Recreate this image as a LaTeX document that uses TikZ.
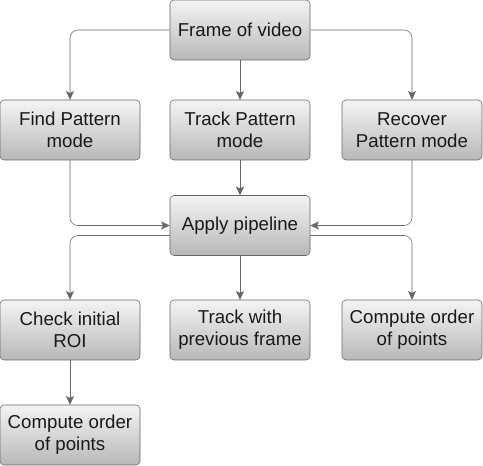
\documentclass[tikz,border=0pt]{standalone}
\usepackage{fontspec}
\setmainfont{Liberation Sans}
\usetikzlibrary{arrows.meta}
\definecolor{boxtop}{RGB}{244,244,244}
\definecolor{boxbot}{RGB}{184,184,184}
\definecolor{lines}{RGB}{102,102,102}
\begin{document}
\begin{tikzpicture}[x=0.75pt, y=-0.75pt]
 \tikzset{box/.style={draw=lines, rounded corners=3pt, top color=boxtop, bottom color=boxbot,
   minimum width=105pt, minimum height=45pt, inner xsep=2pt, align=center, font=\fontsize{14pt}{16.5pt}\selectfont, text=black!90}}
 \tikzset{directed/.style={draw=lines, rounded corners=6pt, -{Stealth[length=6.5pt, width=6pt, inset=1.5pt]}}}
  \useasboundingbox (0,0) rectangle (483,466);
  \node[box] (Frame) at (240,30) {Frame of video};
  \node[box] (Find) at (70,130) {Find Pattern\\mode};
  \node[box] (Track) at (240,130) {Track Pattern\\mode};
  \node[box] (Recover) at (412,130) {Recover\\Pattern mode};
  \node[box] (Apply) at (240,225.5) {Apply pipeline};
  \node[box] (Check) at (70,330) {Check initial\\ROI};
  \node[box] (TrackPrev) at (240,330) {Track with\\previous frame};
  \node[box] (OrderR) at (412,330) {Compute order\\of points};
  \node[box] (OrderB) at (70,435) {Compute order\\of points};
  \draw[directed] (Frame.west) -| (Find.north);
  \draw[directed] (Frame) -- (Track);
  \draw[directed] (Frame.east) -| (Recover.north);
  \draw[directed] (Find.south) |- (Apply.west);
  \draw[directed] (Track) -- (Apply);
  \draw[directed] (Recover.south) |- (Apply.east);
  \draw[directed] ([yshift=-7.5pt]Apply.west) -| (Check.north);
  \draw[directed] (Apply) -- (TrackPrev);
  \draw[directed] ([yshift=-7.5pt]Apply.east) -| (OrderR.north);
  \draw[directed] (Check) -- (OrderB);
\end{tikzpicture}
\end{document}
